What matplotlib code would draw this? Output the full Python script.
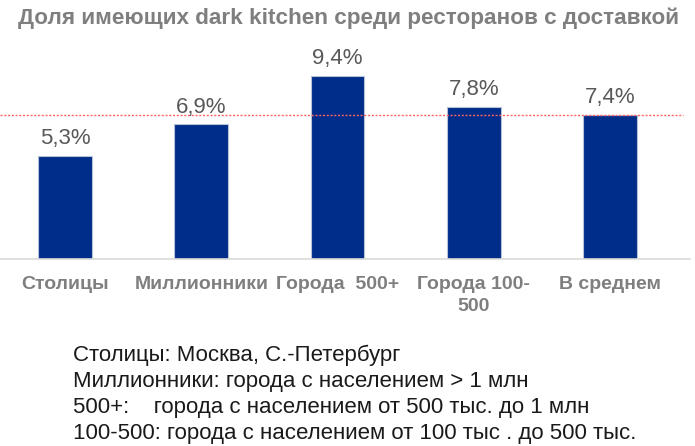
import matplotlib
matplotlib.use('Agg')
import matplotlib.pyplot as plt

plt.rcParams['font.family'] = ['Liberation Sans', 'DejaVu Sans']

# data
categories = ['Столицы', 'Миллионники', 'Города  500+', 'Города 100-\n500', 'В среднем']
values = [5.3, 6.9, 9.4, 7.8, 7.4]
average = 7.4
title = 'Доля имеющих dark kitchen среди ресторанов с доставкой'
notes = [
    'Столицы: Москва, С.-Петербург',
    'Миллионники: города с населением > 1 млн',
    '500+:    города с населением от 500 тыс. до 1 млн',
    '100-500: города с населением от 100 тыс . до 500 тыс.',
]

W, H = 695, 446
fig = plt.figure(figsize=(W / 100, H / 100), dpi=100)

# axes placed in pixel units: x 0..690, y 40..259 (from top)
ax = fig.add_axes([0 / W, (H - 259) / H, 690 / W, (259 - 40) / H])
x = list(range(len(values)))
ax.bar(x, values, width=0.396, color='#002D89', edgecolor='#b8c0d8', linewidth=0.8, zorder=2)
ax.set_xlim(-0.477, 4.587)
ax.set_ylim(0, 219 / 19.5)

ax.axhline(average, xmin=0, xmax=683 / 690, color='#ff6464', linestyle=(0, (1.5, 1.2)),
           linewidth=1.0, zorder=3)

for xi, v in zip(x, values):
    ax.annotate(f'{v:.1f}%'.replace('.', ','), (xi, v), xytext=(0, 5),
                textcoords='offset points', ha='center', va='bottom',
                fontsize=16, color='#595959')

for s in ['top', 'left', 'right']:
    ax.spines[s].set_visible(False)
ax.spines['bottom'].set_color('#d9d9d9')
ax.spines['bottom'].set_linewidth(1.2)
ax.set_yticks([])
ax.set_xticks(x)
ax.set_xticklabels(categories, fontsize=14, fontweight='bold', color='#7f7f7f',
                   linespacing=1.4)
ax.tick_params(axis='x', length=0, pad=12)

fig.text(349 / W, 1 - 18 / H, title, ha='center', va='center',
         fontsize=16.2, fontweight='bold', color='#7f7f7f')

for i, line in enumerate(notes):
    fig.text(73 / W, 1 - (355 + 26 * i) / H, line, ha='left', va='center',
             fontsize=16, color='#1a1a1a')

fig.savefig('out.png', dpi=100)
